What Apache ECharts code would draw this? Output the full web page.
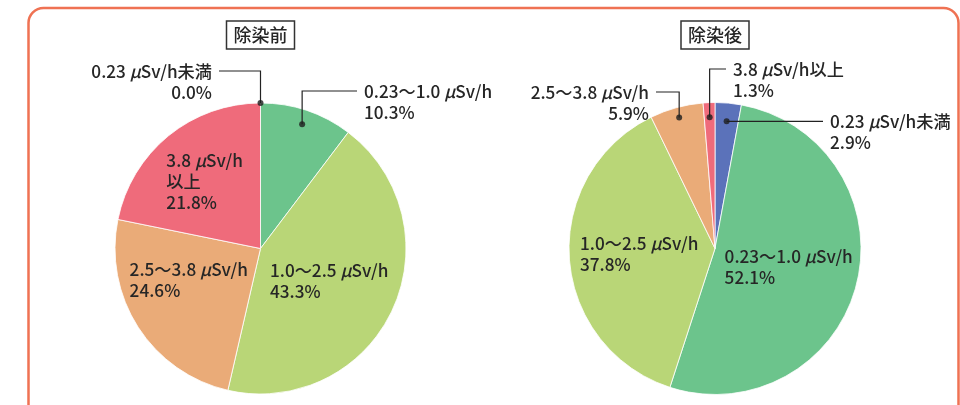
<!DOCTYPE html>
<html>
<head>
<meta charset="utf-8">
<script src="https://cdn.jsdelivr.net/npm/echarts@6/dist/echarts.min.js"></script>
<style>
  html, body { margin: 0; padding: 0; background: #fff; }
  #chart { width: 960px; height: 405px; }
</style>
</head>
<body>
<div id="chart"></div>
<script>
// Dose-rate bands (shared by both pies)
const categories = ['0.23 μSv/h未満', '0.23〜1.0 μSv/h', '1.0〜2.5 μSv/h', '2.5〜3.8 μSv/h', '3.8 μSv/h以上'];
// Label text per pie (the "before" pie wraps the last band)
const labelsBefore = ['0.23 μSv/h未満', '0.23〜1.0 μSv/h', '1.0〜2.5 μSv/h', '2.5〜3.8 μSv/h', '3.8 μSv/h\n以上'];
const labelsAfter = categories;
// Share of area in each band, %
const valuesBefore = [0.0, 10.3, 43.3, 24.6, 21.8];
const valuesAfter = [2.9, 52.1, 37.8, 5.9, 1.3];
const titles = ['除染前', '除染後'];
const colors = ['#5b72ba', '#6cc48c', '#b9d677', '#eaab78', '#ef6b7b'];

const FONT = '"Noto Sans CJK JP", "Noto Sans", sans-serif';
const TEXT = '#262626';
const FS = 17.2;
const FW = 500;
const LH = 21;
const GAP = 7;
const TITLE_PAD = [4, 7];
const DOT_R = 0.9;

const pies = [
  {
    title: titles[0], names: labelsBefore, values: valuesBefore,
    center: [260.5, 248.5], radius: 145.5,
    // callout labels: x = text edge, y = centre of first line
    callouts: { 0: { x: 212, y: 71, align: 'right' }, 1: { x: 364, y: 91, align: 'left' } },
    // small shifts of in-slice labels
    nudge: { 3: [-8, -10], 4: [-8, -8] }
  },
  {
    title: titles[1], names: labelsAfter, values: valuesAfter,
    center: [715, 248.5], radius: 146,
    callouts: {
      0: { x: 830, y: 121, align: 'left', rr: 0.875 },
      3: { x: 649, y: 92, align: 'right', rr: 0.93 },
      4: { x: 733, y: 69, align: 'left' }
    },
    nudge: {}
  }
];

// Anchor of each callout: mid-angle of the slice, a little inside the rim
function anchors(cfg) {
  const total = cfg.values.reduce((a, b) => a + b, 0);
  let cum = 0;
  return cfg.values.map((v, i) => {
    const mid = (cum + v / 2) / total * 100;
    cum += v;
    const c = cfg.callouts[i];
    const rr = v > 0 ? ((c && c.rr) || DOT_R) : 1.0;
    const t = mid / 100 * Math.PI * 2;
    return {
      mid: mid, rr: rr,
      x: cfg.center[0] + rr * cfg.radius * Math.sin(t),
      y: cfg.center[1] - rr * cfg.radius * Math.cos(t)
    };
  });
}

const rich = { i: { fontStyle: 'italic', fontSize: FS, fontWeight: FW, fontFamily: FONT, color: TEXT, lineHeight: LH } };

const option = {
  animation: false,
  backgroundColor: '#fff',
  title: pies.map(cfg => ({
    text: cfg.title,
    left: cfg.center[0] - TITLE_PAD[1],
    top: 21,
    textAlign: 'center',
    padding: TITLE_PAD,
    borderWidth: 1.5,
    borderColor: '#333',
    textStyle: { fontFamily: FONT, fontSize: 18, fontWeight: FW, color: TEXT, lineHeight: 20 }
  })),
  graphic: [{
    type: 'rect', silent: true, z: 0,
    shape: { x: 28.5, y: 8, width: 930, height: 440, r: 15 },
    style: { fill: 'none', stroke: '#ef7253', lineWidth: 2.5 }
  }],
  polar: pies.map(cfg => ({ center: cfg.center, radius: cfg.radius })),
  angleAxis: pies.map((cfg, k) => ({
    polarIndex: k, type: 'value', min: 0, max: 100, startAngle: 90, clockwise: true, show: false
  })),
  radiusAxis: pies.map((cfg, k) => ({ polarIndex: k, type: 'value', min: 0, max: 1, show: false })),
  series: []
};

pies.forEach((cfg, k) => {
  const pts = anchors(cfg);
  option.series.push({
    type: 'pie',
    center: cfg.center,
    radius: cfg.radius,
    startAngle: 90,
    clockwise: true,
    avoidLabelOverlap: false,
    emphasis: { disabled: true },
    itemStyle: { borderColor: '#fff', borderWidth: 0.8 },
    label: {
      fontFamily: FONT, fontSize: FS, fontWeight: FW, color: TEXT, lineHeight: LH, rich: rich,
      formatter: p => cfg.names[p.dataIndex].replace(/μ/g, '{i|μ}') + '\n' + p.value.toFixed(1) + '%'
    },
    labelLine: { show: false },
    data: cfg.values.map((v, i) => ({
      name: categories[i], value: v,
      itemStyle: { color: colors[i] },
      label: { position: cfg.callouts[i] ? 'outside' : 'inside' }
    })),
    labelLayout: function (p) {
      const c = cfg.callouts[p.dataIndex];
      if (!c) {
        const n = cfg.nudge[p.dataIndex] || [0, 0];
        return { x: p.labelRect.x + n[0], y: p.labelRect.y + n[1], align: 'left', verticalAlign: 'top' };
      }
      return { x: c.x, y: c.y - LH / 2, align: c.align, verticalAlign: 'top' };
    }
  });
  // callout leader lines: up from the slice anchor, then across to the label
  pts.forEach((d, i) => {
    const c = cfg.callouts[i];
    if (!c) return;
    const endX = c.align === 'left' ? c.x - GAP : c.x + GAP;
    const y = Math.abs(c.y - d.y) < 4 ? d.y : c.y;
    option.graphic.push({
      type: 'polyline', silent: true, z: 20,
      shape: { points: [[d.x, d.y], [d.x, y], [endX, y]] },
      style: { fill: 'none', stroke: '#222', lineWidth: 1.2 }
    });
  });
  // dots at the start of each callout line
  option.series.push({
    type: 'scatter',
    coordinateSystem: 'polar',
    polarIndex: k,
    symbolSize: 6,
    silent: true,
    z: 30,
    itemStyle: { color: '#1e1e1e' },
    data: pts.filter((d, i) => cfg.callouts[i]).map(d => [d.rr, d.mid])
  });
});

const chart = echarts.init(document.getElementById('chart'), null, { renderer: 'canvas' });
chart.setOption(option);
</script>
</body>
</html>
